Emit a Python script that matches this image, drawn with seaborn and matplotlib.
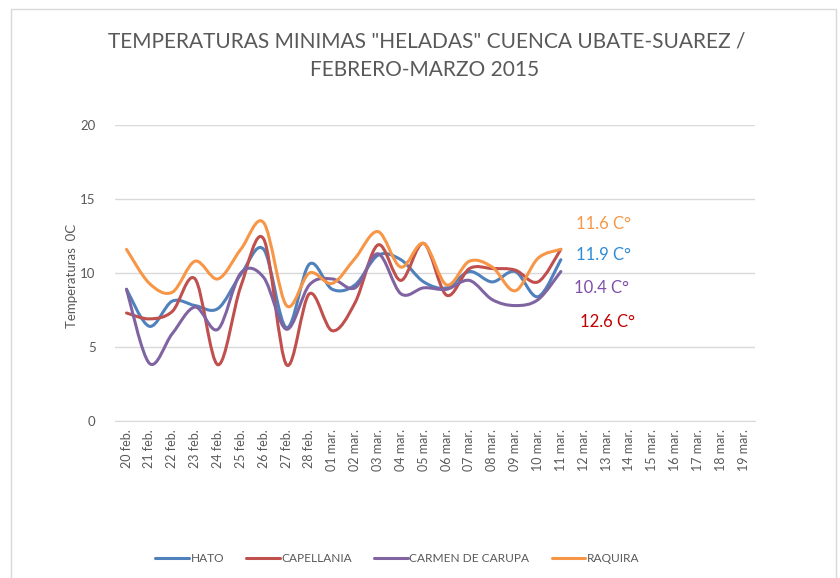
import numpy as np
import pandas as pd
import seaborn as sns
from matplotlib import pyplot as plt
from matplotlib.path import Path
from matplotlib.patches import PathPatch, Rectangle

# temperaturas minimas, 20 feb - 11 mar
dias = ['20 feb.', '21 feb.', '22 feb.', '23 feb.', '24 feb.', '25 feb.', '26 feb.',
        '27 feb.', '28 feb.', '01 mar.', '02 mar.', '03 mar.', '04 mar.', '05 mar.',
        '06 mar.', '07 mar.', '08 mar.', '09 mar.', '10 mar.', '11 mar.', '12 mar.',
        '13 mar.', '14 mar.', '15 mar.', '16 mar.', '17 mar.', '18 mar.', '19 mar.']

hato = [8.9, 6.4, 8.1, 7.8, 7.6, 9.9, 11.6, 6.3, 10.6, 8.9,
        9.2, 11.2, 10.9, 9.4, 9.0, 10.1, 9.4, 10.1, 8.4, 10.9]
capellania = [7.3, 6.9, 7.4, 9.6, 3.8, 9.1, 12.3, 3.8, 8.6, 6.1,
              8.0, 11.9, 9.5, 12.0, 8.5, 10.3, 10.3, 10.2, 9.4, 11.6]
carmen = [8.9, 3.9, 5.9, 7.7, 6.2, 10.0, 9.7, 6.2, 9.2, 9.6,
          9.0, 11.3, 8.6, 9.0, 8.9, 9.5, 8.2, 7.8, 8.2, 10.1]
raquira = [11.6, 9.3, 8.7, 10.8, 9.6, 11.6, 13.4, 7.8, 10.0, 9.3,
           11.0, 12.8, 10.4, 12.0, 9.2, 10.8, 10.4, 8.8, 11.0, 11.6]

estaciones = ['HATO', 'CAPELLANIA', 'CARMEN DE CARUPA', 'RAQUIRA']
colores = ['#4F81BD', '#C0504D', '#8064A2', '#F79646']
etiquetas = ['11.6 C°', '11.9 C°', '10.4 C°', '12.6 C°']
color_etiquetas = ['#F79646', '#2E8BD8', '#7E4FA8', '#C00000']
gris = '#595959'


def smooth_path(x, y):
    # curva tipo "linea suavizada" de Excel: bezier cubica entre puntos
    pts = np.column_stack([x, y])
    verts = [pts[0]]
    codes = [Path.MOVETO]
    n = len(pts)
    for i in range(n - 1):
        p0 = pts[max(i - 1, 0)]
        p1 = pts[i]
        p2 = pts[i + 1]
        p3 = pts[min(i + 2, n - 1)]
        c1 = p1 + (p2 - p0) / 6.0
        c2 = p2 - (p3 - p1) / 6.0
        verts += [c1, c2, p2]
        codes += [Path.CURVE4] * 3
    return Path(verts, codes)


rows = []
for nombre, vals in zip(estaciones, [hato, capellania, carmen, raquira]):
    for i, v in enumerate(vals):
        rows.append({'pos': i, 'temp': v, 'estacion': nombre})
df = pd.DataFrame(rows)

sns.set_style('white')
plt.rcParams['font.family'] = ['Lato', 'DejaVu Sans']

fig = plt.figure(figsize=(8.4, 5.78), dpi=100)
fig.patch.set_facecolor('white')
ax = fig.add_axes([0.137, 0.2716, 0.762, 0.5121])

sns.lineplot(data=df, x='pos', y='temp', hue='estacion', hue_order=estaciones,
             palette=colores, linewidth=2.2, ax=ax, legend=False)
for line in ax.lines:
    line.set_visible(False)

for nombre, col in zip(estaciones, colores):
    d = df[df['estacion'] == nombre]
    ax.add_patch(PathPatch(smooth_path(d['pos'].values, d['temp'].values),
                           facecolor='none', edgecolor=col, linewidth=2.2,
                           capstyle='round', joinstyle='round', zorder=3))

ax.set_xlim(-0.5, len(dias) - 0.5)
ax.set_ylim(0, 20)
ax.set_yticks([0, 5, 10, 15, 20])
ax.set_xticks(range(len(dias)))
ax.set_xticklabels(dias, rotation=90, fontsize=9, color=gris)
ax.tick_params(axis='y', labelsize=9.5, labelcolor=gris, length=0, pad=14)
ax.tick_params(axis='x', length=0, pad=6)
ax.yaxis.grid(True, color='#D9D9D9', linewidth=1)
for s in ['left', 'right', 'top']:
    ax.spines[s].set_visible(False)
ax.spines['bottom'].set_color('#D9D9D9')
ax.set_xlabel('')
ax.set_ylabel('Temperaturas  0C', fontsize=9.5, color=gris, labelpad=2)
ax.yaxis.set_label_coords(-0.058, 0.49)

# etiquetas de valores
ypos = [224, 255, 288, 322]
xpos = [603, 603, 601, 607]
for t, c, xp, yp in zip(etiquetas, color_etiquetas, xpos, ypos):
    fig.text(xp / 840, 1 - yp / 578, t, color=c, fontsize=12,
             ha='center', va='center')

fig.text(0.508, 1 - 42 / 578, 'TEMPERATURAS MINIMAS "HELADAS" CUENCA UBATE-SUAREZ /',
         ha='center', va='center', fontsize=15, color=gris)
fig.text(0.505, 1 - 70 / 578, 'FEBRERO-MARZO 2015',
         ha='center', va='center', fontsize=15, color=gris)

# leyenda
handles = [plt.Line2D([], [], color=c, linewidth=2.2) for c in colores]
fig.legend(handles, estaciones, loc='center', bbox_to_anchor=(0.473, 1 - 559 / 578),
           ncol=4, frameon=False, fontsize=8.6, labelcolor=gris,
           handlelength=2.8, handletextpad=0.15, columnspacing=1.85)

fig.add_artist(Rectangle((11 / 840, -0.01), 825 / 840, 1 - 9 / 578 + 0.01,
                         transform=fig.transFigure, fill=False,
                         edgecolor='#D9D9D9', linewidth=1))

fig.savefig('out.png', dpi=100)
